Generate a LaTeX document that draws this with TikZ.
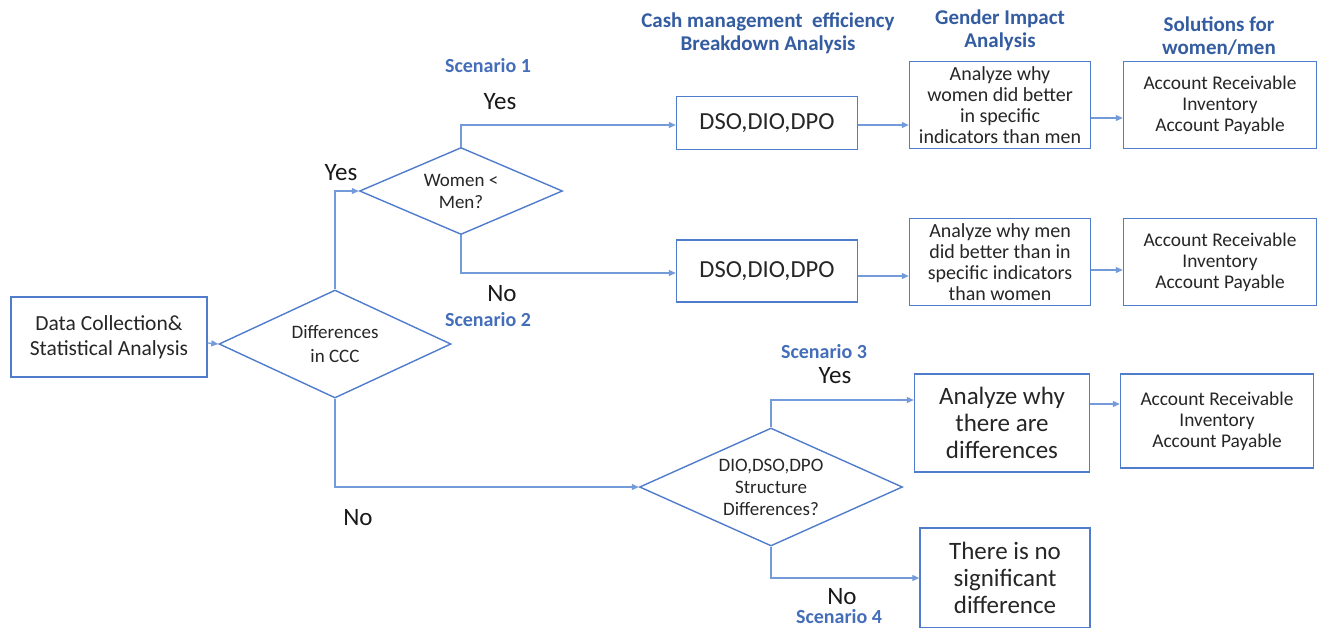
\documentclass[tikz,border=0pt]{standalone}
\usepackage{fontspec}
\setmainfont{Carlito}
\usetikzlibrary{shapes.geometric,arrows.meta}
\definecolor{edge}{RGB}{80,124,204}
\definecolor{conn}{RGB}{115,155,218}
\definecolor{head}{RGB}{52,92,160}
\definecolor{scn}{RGB}{68,110,185}
\begin{document}
\begin{tikzpicture}[x=1pt,y=-1pt,
  box/.style={draw=edge,line width=1.4pt,fill=white,inner sep=0pt,align=center,text=black!85},
  dia/.style={draw=edge,line width=1.4pt,shape=diamond,inner sep=0pt,align=center,text=black!85},
  arr/.style={draw=conn,line width=1.2pt,-{Triangle[length=7pt,width=6pt]}},
  lab/.style={inner sep=0.5pt,font=\fontsize{25}{28}\selectfont,text=black!90},
  scen/.style={inner sep=0.5pt,font=\bfseries\fontsize{20}{22}\selectfont,text=scn},
  hdr/.style={font=\bfseries\fontsize{21}{23}\selectfont,text=head,align=center}]
\useasboundingbox (0,0) rectangle (1318,627);

% boxes
\node[box,minimum width=196,minimum height=80,font=\fontsize{21.5}{25}\selectfont] (dc) at (109,337) {Data Collection\&\\Statistical Analysis};
\node[dia,minimum width=232,minimum height=108,aspect=2.15,font=\fontsize{19}{24}\selectfont] (d1) at (335,344) {Differences\\in CCC};
\node[dia,minimum width=203,minimum height=87,aspect=2.3,font=\fontsize{19}{22}\selectfont] (d2) at (461,191) {Women <\\Men?};
\node[dia,minimum width=263,minimum height=118,aspect=2.2,font=\fontsize{19}{22}\selectfont] (d3) at (771,487) {DIO,DSO,DPO\\Structure\\Differences?};

\node[box,minimum width=181,minimum height=53,font=\fontsize{24.5}{28}\selectfont] (dso1) at (767,123) {DSO,DIO,DPO};
\node[box,minimum width=181,minimum height=62,font=\fontsize{24.5}{28}\selectfont] (dso2) at (767,271) {DSO,DIO,DPO};

\node[box,minimum width=181,minimum height=87,font=\fontsize{20}{21}\selectfont] (g1) at (1000,105) {Analyze why\\women did better\\in specific\\indicators than men};
\node[box,minimum width=181,minimum height=87,font=\fontsize{20}{21}\selectfont] (g2) at (1000,262) {Analyze why men\\did better than in\\specific indicators\\than women};

\node[box,minimum width=193,minimum height=87,font=\fontsize{19.4}{21}\selectfont] (s1) at (1220,105) {Account Receivable\\Inventory\\Account Payable};
\node[box,minimum width=193,minimum height=87,font=\fontsize{19.4}{21}\selectfont] (s2) at (1220,262) {Account Receivable\\Inventory\\Account Payable};

\node[box,minimum width=175,minimum height=98,font=\fontsize{25}{27}\selectfont] (a3) at (1002,423) {Analyze why\\there are\\differences};
\node[box,minimum width=193,minimum height=94,font=\fontsize{19.4}{21}\selectfont] (s3) at (1217,421) {Account Receivable\\Inventory\\Account Payable};
\node[box,minimum width=170,minimum height=100,font=\fontsize{25}{27}\selectfont] (nd) at (1005,578) {There is no\\significant\\difference};

% connectors
\draw[arr] ([yshift=-6pt]dc.east) -- (d1.west);
\draw[arr] (d1.north) |- (d2.west);
\draw[arr] (d1.south) |- (d3.west);
\draw[arr] (d2.north) |- ([yshift=-2pt]dso1.west);
\draw[arr] (d2.south) |- ([yshift=-2pt]dso2.west);
\draw[arr] ([yshift=-2pt]dso1.east) -- ([yshift=-2pt]dso1.east -| g1.west);
\draw[arr] ([yshift=-5pt]dso2.east) -- ([yshift=-5pt]dso2.east -| g2.west);
\draw[arr] ([yshift=-13pt]g1.east) -- ([yshift=-13pt]s1.west);
\draw[arr] ([yshift=-8pt]g2.east) -- ([yshift=-8pt]s2.west);
\draw[arr] (d3.north) |- ([yshift=23pt]a3.west);
\draw[arr] ([yshift=19pt]a3.east) -- ([yshift=19pt]a3.east -| s3.west);
\draw[arr] (d3.south) |- (nd.west);

% labels
\node[hdr] (h1) at (768,33) {Cash management~~efficiency\\Breakdown Analysis};
\node[hdr] (h2) at (1000,30) {Gender Impact\\Analysis};
\node[hdr] (h3) at (1219,36) {Solutions for\\women/men};

\node[scen] (sc1) at (488,66) {Scenario 1};
\node[scen] (sc2) at (488,320) {Scenario 2};
\node[scen] (sc3) at (824,352) {Scenario 3};
\node[scen] (sc4) at (839,617) {Scenario 4};

\node[lab] (y1) at (500,102) {Yes};
\node[lab] (y2) at (341,173) {Yes};
\node[lab] (n1) at (502,294) {No};
\node[lab] (y3) at (835,376) {Yes};
\node[lab] (n2) at (358,518) {No};
\node[lab] (n3) at (842,597) {No};
\end{tikzpicture}
\end{document}
